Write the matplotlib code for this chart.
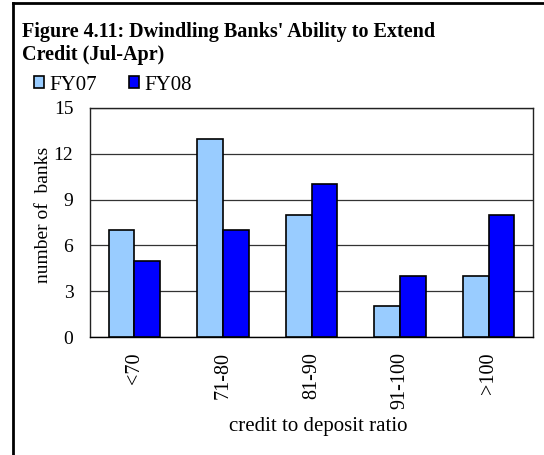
import matplotlib
matplotlib.use("Agg")
import matplotlib.pyplot as plt
from matplotlib.lines import Line2D
import numpy as np

categories = ["<70", "71-80", "81-90", "91-100", ">100"]
fy07 = [7, 13, 8, 2, 4]
fy08 = [5, 7, 10, 4, 8]
yticks = [0, 3, 6, 9, 12, 15]

plt.rcParams["font.family"] = ["Liberation Serif", "DejaVu Serif"]

W, H = 544, 455
fig = plt.figure(figsize=(W / 100, H / 100), dpi=100)
ax = fig.add_axes([90 / W, (H - 337) / H, 443 / W, 229 / H])

x = np.arange(len(categories))
w = 0.29
ax.bar(x - w / 2, fy07, w, color="#99CCFF", edgecolor="black", linewidth=1.2, label="FY07", zorder=3)
ax.bar(x + w / 2, fy08, w, color="#0000FF", edgecolor="black", linewidth=1.2, label="FY08", zorder=3)

ax.set_xlim(-0.5, len(categories) - 0.5)
ax.set_ylim(0, 15)
ax.set_yticks(yticks)
ax.set_xticks(x)
ax.set_xticklabels(categories, rotation=90, va="top", ha="center")
ax.tick_params(axis="both", length=0, labelsize=14)
ax.tick_params(axis="x", pad=11, labelsize=14.5)
ax.tick_params(axis="y", pad=12)
ax.yaxis.grid(True, color="#333333", linewidth=0.9, zorder=0)
for s in ax.spines.values():
    s.set_color("#222222")
    s.set_linewidth(1.0)
ax.spines["bottom"].set_color("black")

fig.text(44 / W, 1 - 215 / H, "number of  banks", rotation=90, ha="center", va="center", fontsize=14)
fig.text(318 / W, 1 - 426 / H, "credit to deposit ratio", ha="center", va="center", fontsize=15)

fig.text(22 / W, 1 - 37 / H, "Figure 4.11: Dwindling Banks' Ability to Extend",
         ha="left", va="baseline", fontsize=14.5, fontweight="bold")
fig.text(22 / W, 1 - 60 / H, "Credit (Jul-Apr)",
         ha="left", va="baseline", fontsize=14.5, fontweight="bold")

fig.legend(loc="center left", bbox_to_anchor=(34 / W, 1 - 85 / H), ncol=2, frameon=False,
           fontsize=15, handlelength=0.5, handleheight=0.5, handletextpad=0.25,
           columnspacing=1.5, borderaxespad=0, borderpad=0)

# frame around the chart
fig.add_artist(Line2D([12.5 / W, 12.5 / W], [0, 1 - 2.5 / H], color="black", linewidth=2, transform=fig.transFigure))
fig.add_artist(Line2D([12.5 / W, 1], [1 - 2.5 / H, 1 - 2.5 / H], color="black", linewidth=2, transform=fig.transFigure))

fig.savefig("out.png", dpi=100)
